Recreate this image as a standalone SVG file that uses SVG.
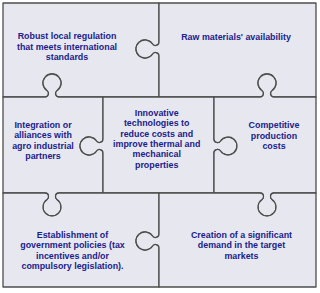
<svg xmlns="http://www.w3.org/2000/svg" width="320" height="293" viewBox="0 0 320 293">
<style>
.piece{fill:#e7e8ef;stroke:#4d4d4d;stroke-width:1.3;stroke-linejoin:round}
.lbl{font-family:"Liberation Sans",Arial,sans-serif;font-weight:bold;font-size:8.9px;fill:#20208c;text-anchor:middle}
</style>
<rect x="0" y="0" width="320" height="293" fill="#ffffff"/>
<g id="piece-regulation">
<path class="piece" d="M3,3 H159 V42 C159,46 154.2,46.5 152.5,44 A9,9 0 1,0 152.5,54 C154.2,51.5 159,52 159,56 V97 H59 C55,97 54.5,92.2 57,90.5 A9,9 0 1,0 47,90.5 C49.5,92.2 49,97 45,97 H3 Z"/>
<text class="lbl" x="67" y="39">Robust local regulation</text>
<text class="lbl" x="67" y="49.5">that meets international</text>
<text class="lbl" x="67" y="60">standards</text>
</g>
<g id="piece-raw-materials">
<path class="piece" d="M159,3 H316 V97 H274 C270,97 269.5,92.2 272,90.5 A9,9 0 1,0 262,90.5 C264.5,92.2 264,97 260,97 H159 V56 C159,52 154.2,51.5 152.5,54 A9,9 0 1,1 152.5,44 C154.2,46.5 159,46 159,42 Z"/>
<text class="lbl" x="236" y="40">Raw materials' availability</text>
</g>
<g id="piece-integration">
<path class="piece" d="M3,97 H45 C49,97 49.5,92.2 47,90.5 A9,9 0 1,1 57,90.5 C54.5,92.2 55,97 59,97 H103 V139 C103,143 98.2,143.5 96.5,141 A9,9 0 1,0 96.5,151 C98.2,148.5 103,149 103,153 V193 H59 C55,193 54.5,197.8 57,199.5 A9,9 0 1,1 47,199.5 C49.5,197.8 49,193 45,193 H3 Z"/>
<text class="lbl" x="43" y="127.5">Integration or</text>
<text class="lbl" x="43" y="138">alliances with</text>
<text class="lbl" x="43" y="148.5">agro industrial</text>
<text class="lbl" x="43" y="159">partners</text>
</g>
<g id="piece-innovative">
<path class="piece" d="M103,97 H214 V139 C214,143 218.8,143.5 220.5,141 A9,9 0 1,1 220.5,151 C218.8,148.5 214,149 214,153 V193 H103 V153 C103,149 98.2,148.5 96.5,151 A9,9 0 1,1 96.5,141 C98.2,143.5 103,143 103,139 Z"/>
<text class="lbl" x="156.7" y="115.5">Innovative</text>
<text class="lbl" x="156.7" y="126">technologies to</text>
<text class="lbl" x="156.7" y="136.5">reduce costs and</text>
<text class="lbl" x="156.7" y="147">improve thermal and</text>
<text class="lbl" x="156.7" y="157">mechanical</text>
<text class="lbl" x="156.7" y="167.5">properties</text>
</g>
<g id="piece-competitive">
<path class="piece" d="M214,97 H260 C264,97 264.5,92.2 262,90.5 A9,9 0 1,1 272,90.5 C269.5,92.2 270,97 274,97 H316 V193 H274 C270,193 269.5,197.8 272,199.5 A9,9 0 1,1 262,199.5 C264.5,197.8 264,193 260,193 H214 V153 C214,149 218.8,148.5 220.5,151 A9,9 0 1,0 220.5,141 C218.8,143.5 214,143 214,139 Z"/>
<text class="lbl" x="274" y="128">Competitive</text>
<text class="lbl" x="274" y="138.5">production</text>
<text class="lbl" x="274" y="149">costs</text>
</g>
<g id="piece-policies">
<path class="piece" d="M3,193 H45 C49,193 49.5,197.8 47,199.5 A9,9 0 1,0 57,199.5 C54.5,197.8 55,193 59,193 H159 V234 C159,238 154.2,238.5 152.5,236 A9,9 0 1,0 152.5,246 C154.2,243.5 159,244 159,248 V287 H3 Z"/>
<text class="lbl" x="72.5" y="237.5">Establishment of</text>
<text class="lbl" x="72.5" y="248">government policies (tax</text>
<text class="lbl" x="72.5" y="258.5">incentives and/or</text>
<text class="lbl" x="72.5" y="269">compulsory legislation).</text>
</g>
<g id="piece-demand">
<path class="piece" d="M159,193 H260 C264,193 264.5,197.8 262,199.5 A9,9 0 1,0 272,199.5 C269.5,197.8 270,193 274,193 H316 V287 H159 V248 C159,244 154.2,243.5 152.5,246 A9,9 0 1,1 152.5,236 C154.2,238.5 159,238 159,234 Z"/>
<text class="lbl" x="241.5" y="237.5">Creation of a significant</text>
<text class="lbl" x="241.5" y="248">demand in the target</text>
<text class="lbl" x="241.5" y="258.5">markets</text>
</g>
</svg>
